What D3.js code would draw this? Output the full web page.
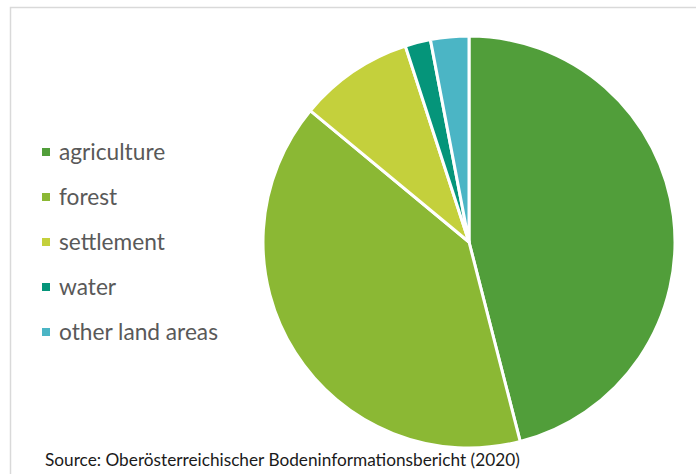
<!DOCTYPE html>
<html><head><meta charset="utf-8">
<script src="https://cdn.jsdelivr.net/npm/d3@7"></script>
<style>html,body{margin:0;padding:0;background:#fff;}svg{display:block;}</style>
</head><body>
<svg id="chart" width="696" height="474"></svg>
<script>
const categories = ["agriculture", "forest", "settlement", "water", "other land areas"];
const values = [46, 40, 9, 2, 3];
const colors = ["#519E3A", "#8BB834", "#C4D03C", "#05957A", "#4BB5C5"];
const sourceText = "Source: Oberösterreichischer Bodeninformationsbericht (2020)";

const svg = d3.select("#chart");
// chart frame
svg.append("rect").attr("x", 10.5).attr("y", 7.5).attr("width", 700).attr("height", 480)
  .attr("fill", "#fff").attr("stroke", "#d9d9d9").attr("stroke-width", 1.5);

const data = categories.map((c, i) => ({cat: c, value: values[i]}));
const pie = d3.pie().value(d => d.value).sort(null);
const arc = d3.arc().innerRadius(0).outerRadius(206);
const color = d3.scaleOrdinal().domain(categories).range(colors);

const g = svg.append("g").attr("transform", "translate(469,242)");
g.selectAll("path").data(pie(data)).join("path")
  .attr("d", arc).attr("fill", d => color(d.data.cat))
  .attr("stroke", "#fff").attr("stroke-width", 3).attr("stroke-linejoin", "round");

const y = d3.scalePoint().domain(categories).range([152, 332]);
const leg = svg.append("g");
leg.selectAll("rect").data(categories).join("rect")
  .attr("x", 42).attr("y", d => y(d) - 4).attr("width", 8).attr("height", 8)
  .attr("fill", d => color(d));
const lt = leg.selectAll("text").data(categories).join("text")
  .attr("x", 59).attr("y", d => y(d)).attr("dy", "0.35em")
  .attr("font-family", "Lato, sans-serif").attr("font-size", 21)
  .attr("fill", "#595959").text(d => d);
// fit legend font so "other land areas" spans ~159px like the reference
const lastW = lt.nodes()[categories.length - 1].getComputedTextLength();
lt.attr("font-size", 21 * 159 / lastW);

const st = svg.append("text").attr("x", 45).attr("y", 466)
  .attr("font-family", "Lato, sans-serif").attr("font-size", 16)
  .attr("fill", "#1a1a1a").text(sourceText);
const sw = st.node().getComputedTextLength();
st.attr("font-size", 16 * 475 / sw);
</script>
</body></html>
